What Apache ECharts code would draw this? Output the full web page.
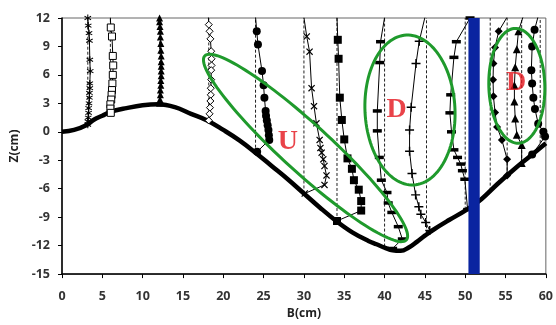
<!DOCTYPE html>
<html>
<head>
<meta charset="utf-8">
<script src="https://cdn.jsdelivr.net/npm/echarts@6/dist/echarts.min.js"></script>
<style>
  html, body { margin: 0; padding: 0; background: #fff; }
  #chart { width: 556px; height: 325px; }
</style>
</head>
<body>
<div id="chart"></div>
<script>
// Bed profile of the scour hole (B, Z in cm)
const bedX = [0, 1.5, 3, 4, 5, 6, 8, 10, 12, 14, 16, 18, 20, 22, 24, 26, 28, 30, 32, 34, 36, 38, 39, 40, 41, 42, 43, 44, 45, 46, 48, 50, 52, 54, 56, 58, 60];
const bedZ = [0, 0.2, 0.7, 1.3, 1.7, 2.1, 2.5, 2.8, 2.9, 2.6, 1.9, 1.2, 0.2, -0.9, -2.2, -3.6, -5.0, -6.5, -8.0, -9.4, -10.6, -11.5, -11.85, -12.2, -12.5, -12.55, -12.2, -11.6, -10.95, -10.35, -9.3, -8.3, -7.1, -5.5, -4.0, -2.6, -1.2];

// Measuring stations and bed level under each one
const stationX = [3.2, 6.0, 12.1, 18.2, 24.0, 30.0, 34.1, 40.0, 45.2, 50.0, 53.1, 55.2, 57.0, 59.3];
const stationBedZ = [0.75, 2.1, 2.9, 1.2, -2.2, -6.5, -9.4, -12.1, -10.7, -8.2, -6.2, -4.6, -3.3, -1.7];

// Velocity profiles plotted as [B, Z]
const profileA = [[3.2, 12], [3.25, 11.2], [3.35, 10.4], [3.4, 9.6], [3.45, 7.6], [3.5, 6.4], [3.45, 5.1], [3.45, 4.6], [3.4, 4.1], [3.4, 3.6], [3.35, 3.0], [3.3, 2.5], [3.3, 2.0], [3.25, 1.5], [3.2, 1.1], [3.2, 0.75]];
const profileB = [[6.0, 12.05], [6.05, 11.0], [6.2, 10.05], [6.3, 8.0], [6.35, 7.0], [6.3, 6.0], [6.25, 5.1], [6.2, 4.4], [6.15, 3.9], [6.1, 3.4], [6.0, 2.9], [6.0, 2.45], [6.05, 2.0]];
const profileC = [[12.1, 12], [12.1, 11.6], [12.15, 11.1], [12.2, 10.6], [12.2, 10.0], [12.25, 9.3], [12.25, 8.6], [12.3, 8.0], [12.3, 7.4], [12.3, 6.9], [12.3, 6.4], [12.3, 5.9], [12.25, 5.4], [12.25, 4.9], [12.2, 4.4], [12.2, 3.9], [12.15, 3.4], [12.1, 3.0]];
const profileD = [[18.15, 12.1], [18.2, 11.3], [18.3, 10.6], [18.4, 9.8], [18.5, 8.5], [18.55, 7.7], [18.55, 7.0], [18.5, 6.5], [18.5, 5.5], [18.45, 4.6], [18.45, 3.9], [18.4, 3.25], [18.35, 2.55], [18.3, 1.9], [18.2, 1.2]];
const profileE = [[24.0, 12.1], [24.15, 10.6], [24.3, 9.2], [24.8, 6.4], [25.0, 4.9], [25.1, 3.6], [25.25, 2.2], [25.3, 1.7], [25.4, 1.2], [25.5, 0.7], [25.6, 0.2], [25.65, -0.35], [25.7, -0.85], [24.2, -2.1]];
const profileF = [[30.0, 12.05], [30.35, 10.05], [30.7, 8.45], [30.95, 4.6], [31.25, 2.7], [31.55, 0.9], [31.95, -0.85], [32.05, -1.7], [32.2, -2.2], [32.4, -2.9], [32.55, -3.6], [32.8, -4.6], [32.55, -5.6], [30.1, -6.5]];
const profileG = [[34.1, 12.05], [34.2, 9.7], [34.3, 7.7], [34.45, 3.6], [34.7, 1.25], [35.0, -0.8], [35.4, -2.8], [35.95, -3.9], [36.2, -5.1], [36.8, -6.1], [37.1, -7.3], [37.1, -8.3], [34.1, -9.4]];
const profileH = [[40.0, 12.05], [39.5, 9.5], [39.4, 7.3], [39.1, 2.2], [39.1, 0.1], [39.35, -2.7], [39.6, -5.1], [40.3, -6.4], [40.45, -7.5], [40.9, -8.5], [41.7, -10.0], [42.2, -11.3], [41.0, -12.3]];
const profileI = [[45.0, 12.05], [44.3, 9.55], [43.9, 7.2], [43.3, 2.6], [43.1, 0.2], [43.1, -2.05], [43.4, -4.4], [43.85, -6.65], [44.25, -7.9], [44.5, -8.7], [45.1, -9.55], [45.6, -10.4]];
const profileJ = [[50.6, 12.0], [48.9, 9.5], [48.6, 7.85], [48.2, 3.9], [48.1, 2.0], [48.3, 0.0], [48.6, -1.9], [49.05, -2.7], [49.45, -3.4], [49.65, -4.1], [49.95, -5.0], [50.3, -8.2]];
const profileK = [[55.2, 12.1], [54.15, 10.6], [53.7, 8.9], [53.5, 7.2], [53.45, 5.5], [53.5, 3.75], [53.7, 2.05], [53.95, 0.5], [54.55, -0.85], [55.2, -2.9], [55.2, -4.6]];
const profileL = [[57.2, 12.2], [56.6, 10.6], [56.4, 8.7], [56.2, 6.8], [56.1, 4.9], [56.1, 3.2], [56.2, 1.4], [56.4, -0.3], [57.0, -1.4], [57.0, -3.3]];
const profileM = [[59.05, 12.2], [58.6, 10.75], [58.3, 9.0], [58.2, 6.5], [58.3, 5.1], [58.45, 3.6], [58.65, 2.4], [59.05, 0.85], [59.7, 0.0], [59.9, -0.5], [58.3, -2.4]];

// Pier (blue band) extent along B
const pierX = [50.4, 51.8];

// Flow zones: major-axis end points [B1, Z1, B2, Z2]
const zoneTips = [[17.7, 8.0, 42.7, -11.4], [42.7, 10.2, 43.6, -5.6], [56.2, 10.9, 56.6, -1.2]];
const zoneLabels = [['U', 28.0, -1.0], ['D', 41.5, 2.3], ['D', 56.3, 5.2]];

// Axis range and ticks
const xMin = 0, xMax = 60, xStep = 5;
const zMin = -15, zMax = 12, zStep = 3;

// ---- drawing ----
const zoneHalfWidthPx = [24, 45, 28];
const GREEN = '#1f9a2c';
const SYM_X = 'path://M0,1.2L1.2,0L5,3.8L8.8,0L10,1.2L6.2,5L10,8.8L8.8,10L5,6.2L1.2,10L0,8.8L3.8,5Z';
const SYM_STAR = 'path://M4.3,0h1.4v3.8l3.3,-1.9l0.7,1.2l-3.3,1.9l3.3,1.9l-0.7,1.2l-3.3,-1.9v3.8h-1.4v-3.8l-3.3,1.9l-0.7,-1.2l3.3,-1.9l-3.3,-1.9l0.7,-1.2l3.3,1.9z';
const SYM_PLUS = 'path://M4.2,0H5.8V4.2H10V5.8H5.8V10H4.2V5.8H0V4.2H4.2Z';

function profile(data, symbol, size, hollow) {
  return {
    type: 'line', data: data, z: 4,
    symbol: symbol, symbolSize: size, showSymbol: true,
    lineStyle: { color: '#000', width: 1 },
    itemStyle: hollow ? { color: '#fff', borderColor: '#000', borderWidth: 1 } : { color: '#000', borderWidth: 0 }
  };
}

const chart = echarts.init(document.getElementById('chart'), null, { renderer: 'canvas' });
const labelFont = { fontFamily: 'Open Sans', fontWeight: 'bold', fontSize: 12.5, color: '#333' };
const nameFont = { fontFamily: 'Open Sans', fontWeight: 'bold', fontSize: 12, color: '#222' };

chart.setOption({
  animation: false,
  backgroundColor: '#fff',
  grid: { left: 62, right: 5, top: 18, bottom: 43, show: true, borderColor: '#666', borderWidth: 1 },
  xAxis: {
    type: 'value', min: xMin, max: xMax, interval: xStep,
    name: 'B(cm)', nameLocation: 'middle', nameGap: 30, nameTextStyle: nameFont,
    axisLine: { onZero: false, lineStyle: { color: '#000', width: 1.5 } },
    axisTick: { show: true, length: 4, lineStyle: { color: '#000', width: 1 } },
    axisLabel: Object.assign({ margin: 16 }, labelFont),
    splitLine: { show: false }
  },
  yAxis: {
    type: 'value', min: zMin, max: zMax, interval: zStep,
    name: 'Z(cm)', nameLocation: 'middle', nameGap: 39, nameRotate: 90, nameTextStyle: nameFont,
    axisLine: { onZero: false, lineStyle: { color: '#000', width: 1.5 } },
    axisTick: { show: true, length: 4, lineStyle: { color: '#000', width: 1 } },
    axisLabel: Object.assign({ margin: 12 }, labelFont),
    splitLine: { show: false }
  },
  series: [
    // dashed verticals at each station, from bed up to the top of the plot
    {
      type: 'custom', z: 1,
      data: stationX.map((x, i) => [x, stationBedZ[i]]),
      renderItem: function (params, api) {
        const p0 = api.coord([api.value(0), api.value(1)]);
        const p1 = api.coord([api.value(0), zMax]);
        return { type: 'line', shape: { x1: p0[0], y1: p0[1], x2: p1[0], y2: p1[1] },
          style: { stroke: '#222', lineWidth: 1, lineDash: [3, 2] } };
      }
    },
    // bed
    {
      type: 'line', z: 3, data: bedX.map((x, i) => [x, bedZ[i]]),
      smooth: 0.4, symbol: 'none', lineStyle: { color: '#000', width: 4.5 }
    },
    profile(profileA, SYM_STAR, 7, false),
    profile(profileB, 'rect', 7, true),
    profile(profileC, 'triangle', 7, false),
    profile(profileD, 'diamond', 7, true),
    profile(profileE, 'circle', 8, false),
    profile(profileF, SYM_X, 7, false),
    profile(profileG, 'rect', 8, false),
    profile(profileH, 'rect', [9, 3.5], false),
    profile(profileI, SYM_PLUS, 9, false),
    profile(profileJ, 'rect', [9, 3.5], false),
    profile(profileK, 'diamond', 8, false),
    profile(profileL, 'triangle', 8, false),
    profile(profileM, 'circle', 8, false),
    // pier
    {
      type: 'custom', z: 6, data: [[pierX[0], pierX[1]]],
      renderItem: function (params, api) {
        const a = api.coord([api.value(0), zMax]);
        const b = api.coord([api.value(1), zMin]);
        return { type: 'rect', shape: { x: a[0], y: a[1], width: b[0] - a[0], height: b[1] - a[1] },
          style: { fill: '#0a24a0' } };
      }
    },
    // flow zones
    {
      type: 'custom', z: 7, data: zoneTips,
      renderItem: function (params, api) {
        const a = api.coord([api.value(0), api.value(1)]);
        const b = api.coord([api.value(2), api.value(3)]);
        const cx = (a[0] + b[0]) / 2, cy = (a[1] + b[1]) / 2;
        const dx = b[0] - a[0], dy = b[1] - a[1];
        const len = Math.sqrt(dx * dx + dy * dy);
        const ux = dx / len, uy = dy / len;
        const ra = len / 2, rb = zoneHalfWidthPx[params.dataIndex];
        const pts = [];
        for (let k = 0; k < 120; k++) {
          const t = k / 120 * Math.PI * 2;
          const ca = Math.cos(t) * ra, sb = Math.sin(t) * rb;
          pts.push([cx + ca * ux - sb * uy, cy + ca * uy + sb * ux]);
        }
        return { type: 'polygon', shape: { points: pts },
          style: { fill: 'none', stroke: GREEN, lineWidth: 3 } };
      }
    },
    // zone letters
    {
      type: 'scatter', z: 8, symbolSize: 0,
      data: zoneLabels.map(d => ({ value: [d[1], d[2]], name: d[0] })),
      label: {
        show: true, position: 'inside', formatter: '{b}',
        fontFamily: 'Liberation Serif', fontWeight: 'bold', fontSize: 28, color: '#e3141c'
      }
    }
  ]
});
</script>
</body>
</html>
